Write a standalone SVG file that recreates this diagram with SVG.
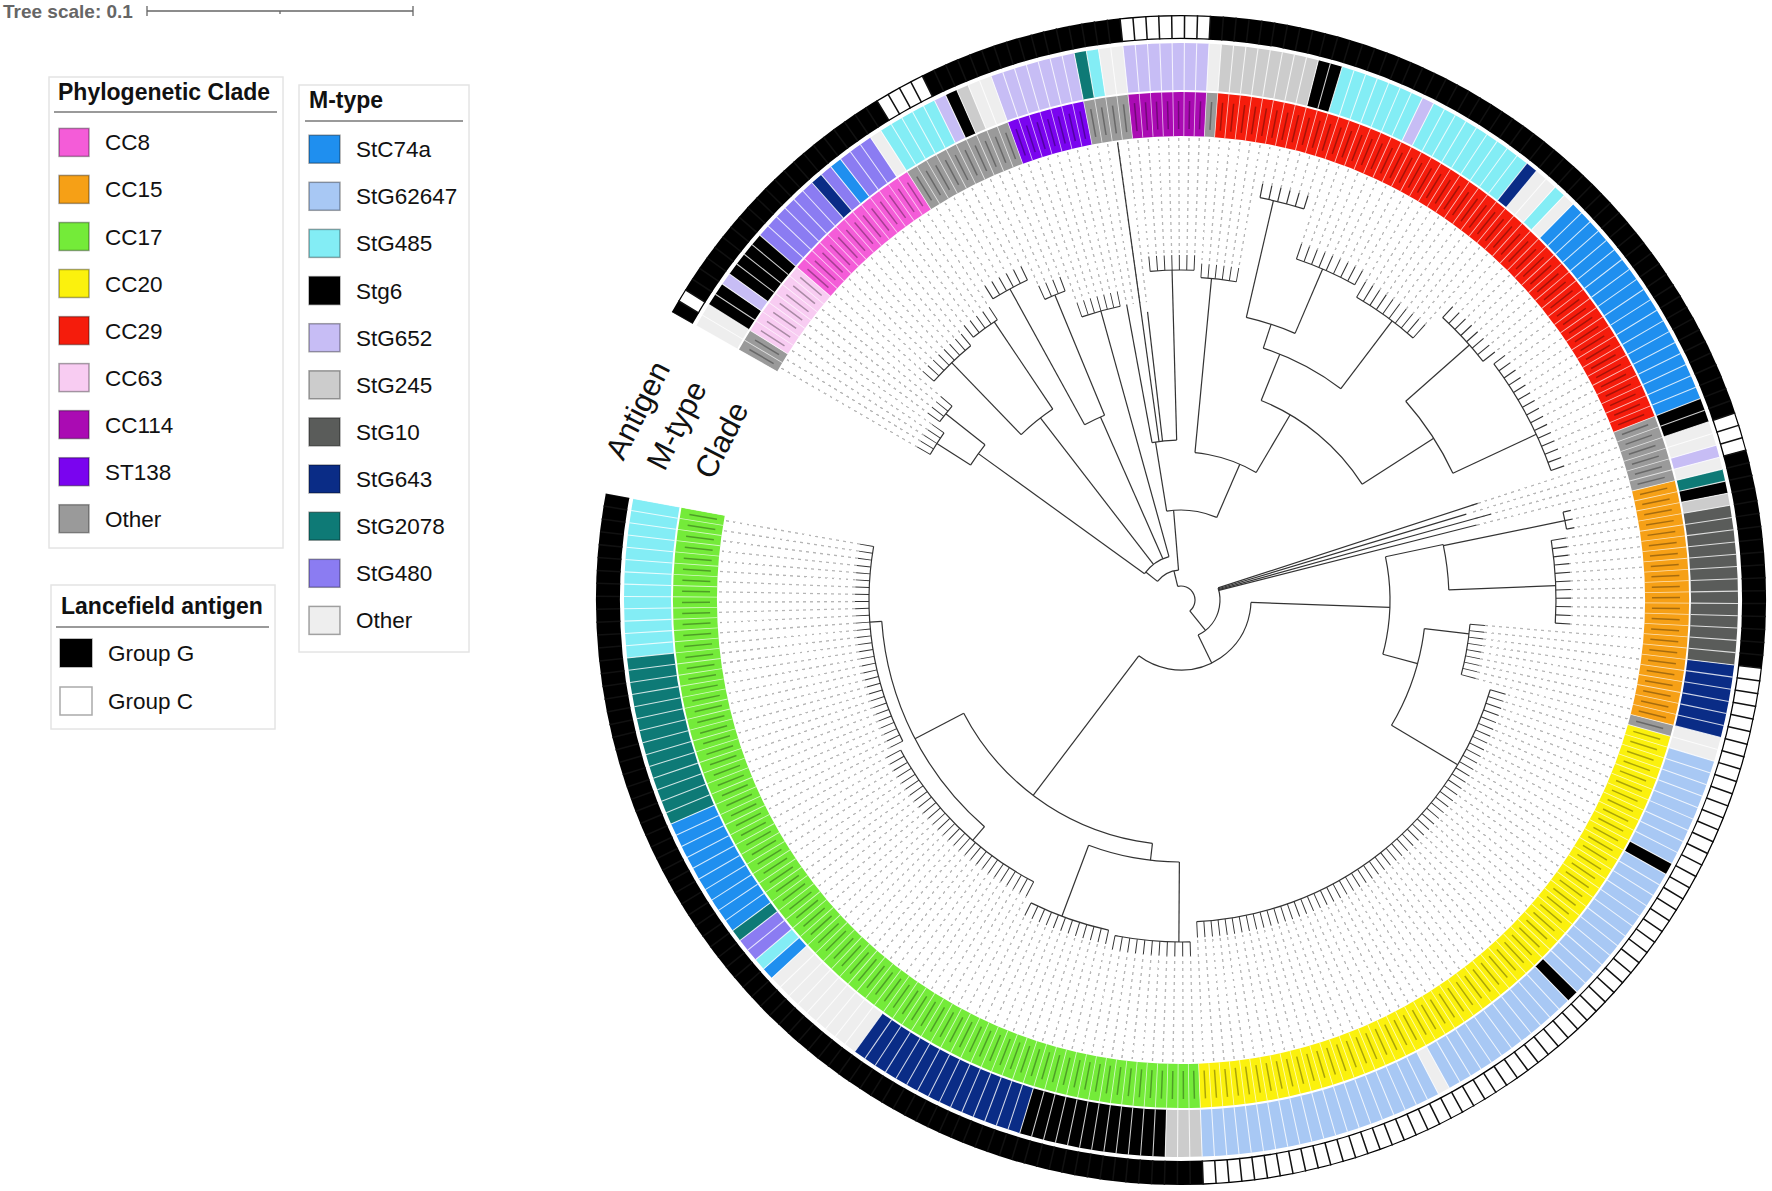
<svg xmlns="http://www.w3.org/2000/svg" width="1772" height="1191" viewBox="0 0 1772 1191">
<defs>
<style>
text{font-family:"Liberation Sans",Arial,sans-serif;fill:#111}
.lt{font-size:22.5px}
.ttl{font-size:23px;font-weight:bold}
.sw{stroke:rgba(0,0,0,0.35);stroke-width:1.5}
.box{fill:#fff;stroke:#e4e4e4;stroke-width:1.5}
.ul{stroke:#9a9a9a;stroke-width:2}
.cr{fill:none;stroke-width:44}
.mr{fill:none;stroke-width:47}
.ar{fill:none;stroke-width:24}
.br{fill:none;stroke:#333;stroke-width:1.2}
.tk{fill:none;stroke:#333;stroke-dasharray:0.13 0.87;stroke-dashoffset:-0.435}
.mk{fill:none;stroke:#fff;stroke-width:300}
.cv{fill:none;stroke:#fff}
</style>
<radialGradient id="dg" gradientUnits="userSpaceOnUse" cx="0" cy="0" r="7" spreadMethod="repeat">
<stop offset="0" stop-color="#fff"/><stop offset="0.6" stop-color="#fff"/><stop offset="0.6" stop-color="#b5b5b5"/><stop offset="1" stop-color="#b5b5b5"/>
</radialGradient>
<mask id="m1" maskUnits="userSpaceOnUse" x="-600" y="-600" width="1200" height="1200"><circle r="300" pathLength="283.988" class="mk" style="stroke-dasharray:30 400"/></mask>
<mask id="m2" maskUnits="userSpaceOnUse" x="-600" y="-600" width="1200" height="1200"><circle r="300" pathLength="283.988" class="mk" style="stroke-dasharray:0 30 28 400"/></mask>
<mask id="m3" maskUnits="userSpaceOnUse" x="-600" y="-600" width="1200" height="1200"><circle r="300" pathLength="283.988" class="mk" style="stroke-dasharray:0 58 12 400"/></mask>
<mask id="m4" maskUnits="userSpaceOnUse" x="-600" y="-600" width="1200" height="1200"><circle r="300" pathLength="283.988" class="mk" style="stroke-dasharray:0 70 11 400"/></mask>
<mask id="m5" maskUnits="userSpaceOnUse" x="-600" y="-600" width="1200" height="1200"><circle r="300" pathLength="283.988" class="mk" style="stroke-dasharray:0 81 57 400"/></mask>
<mask id="m6" maskUnits="userSpaceOnUse" x="-600" y="-600" width="1200" height="1200"><circle r="300" pathLength="283.988" class="mk" style="stroke-dasharray:0 138 9 400"/></mask>
<mask id="m7" maskUnits="userSpaceOnUse" x="-600" y="-600" width="1200" height="1200"><circle r="300" pathLength="283.988" class="mk" style="stroke-dasharray:0 147 11 400"/></mask>
<mask id="m8" maskUnits="userSpaceOnUse" x="-600" y="-600" width="1200" height="1200"><circle r="300" pathLength="283.988" class="mk" style="stroke-dasharray:0 158 3 400"/></mask>
<mask id="m9" maskUnits="userSpaceOnUse" x="-600" y="-600" width="1200" height="1200"><circle r="300" pathLength="283.988" class="mk" style="stroke-dasharray:0 165 15 400"/></mask>
<mask id="m10" maskUnits="userSpaceOnUse" x="-600" y="-600" width="1200" height="1200"><circle r="300" pathLength="283.988" class="mk" style="stroke-dasharray:0 180 8 400"/></mask>
<mask id="m11" maskUnits="userSpaceOnUse" x="-600" y="-600" width="1200" height="1200"><circle r="300" pathLength="283.988" class="mk" style="stroke-dasharray:0 188 10 400"/></mask>
<mask id="m12" maskUnits="userSpaceOnUse" x="-600" y="-600" width="1200" height="1200"><circle r="300" pathLength="283.988" class="mk" style="stroke-dasharray:0 198 9 400"/></mask>
<mask id="m13" maskUnits="userSpaceOnUse" x="-600" y="-600" width="1200" height="1200"><circle r="300" pathLength="283.988" class="mk" style="stroke-dasharray:0 207 6 400"/></mask>
<mask id="m14" maskUnits="userSpaceOnUse" x="-600" y="-600" width="1200" height="1200"><circle r="300" pathLength="283.988" class="mk" style="stroke-dasharray:0 213 6 400"/></mask>
<mask id="m15" maskUnits="userSpaceOnUse" x="-600" y="-600" width="1200" height="1200"><circle r="300" pathLength="283.988" class="mk" style="stroke-dasharray:0 219 7 400"/></mask>
<mask id="m16" maskUnits="userSpaceOnUse" x="-600" y="-600" width="1200" height="1200"><circle r="300" pathLength="283.988" class="mk" style="stroke-dasharray:0 230 7 400"/></mask>
<mask id="m17" maskUnits="userSpaceOnUse" x="-600" y="-600" width="1200" height="1200"><circle r="300" pathLength="283.988" class="mk" style="stroke-dasharray:0 237 4 400"/></mask>
<mask id="m18" maskUnits="userSpaceOnUse" x="-600" y="-600" width="1200" height="1200"><circle r="300" pathLength="283.988" class="mk" style="stroke-dasharray:0 241 6 400"/></mask>
<mask id="m19" maskUnits="userSpaceOnUse" x="-600" y="-600" width="1200" height="1200"><circle r="300" pathLength="283.988" class="mk" style="stroke-dasharray:0 247 5 400"/></mask>
<mask id="m20" maskUnits="userSpaceOnUse" x="-600" y="-600" width="1200" height="1200"><circle r="300" pathLength="283.988" class="mk" style="stroke-dasharray:0 252 8 400"/></mask>
<mask id="m21" maskUnits="userSpaceOnUse" x="-600" y="-600" width="1200" height="1200"><circle r="300" pathLength="283.988" class="mk" style="stroke-dasharray:0 260 4 400"/></mask>
<mask id="m22" maskUnits="userSpaceOnUse" x="-600" y="-600" width="1200" height="1200"><circle r="300" pathLength="283.988" class="mk" style="stroke-dasharray:0 264 5 400"/></mask>
</defs>
<rect width="1772" height="1191" fill="#fff"/>

<g id="scale">
<text x="3" y="18" style="font-size:19px;font-weight:bold;fill:#666">Tree scale: 0.1</text>
<g stroke="#666" stroke-width="1.3">
<line x1="147" y1="11" x2="413" y2="11"/>
<line x1="147" y1="6" x2="147" y2="16"/>
<line x1="413" y1="6" x2="413" y2="16"/>
<line x1="280" y1="11" x2="280" y2="14"/>
</g>
</g>

<g id="legend-clade">
<rect class="box" x="49" y="77" width="234" height="471"/>
<text class="ttl" x="58" y="100">Phylogenetic Clade</text>
<line class="ul" x1="54" y1="112" x2="277" y2="112"/>
<rect class="sw" x="59" y="128.4" width="30" height="28" fill="#F45CD8"/><text class="lt" x="105" y="150.4">CC8</text>
<rect class="sw" x="59" y="175.4" width="30" height="28" fill="#F6A016"/><text class="lt" x="105" y="197.4">CC15</text>
<rect class="sw" x="59" y="222.5" width="30" height="28" fill="#74EB39"/><text class="lt" x="105" y="244.5">CC17</text>
<rect class="sw" x="59" y="269.5" width="30" height="28" fill="#FBF10D"/><text class="lt" x="105" y="291.5">CC20</text>
<rect class="sw" x="59" y="316.6" width="30" height="28" fill="#F51C0C"/><text class="lt" x="105" y="338.6">CC29</text>
<rect class="sw" x="59" y="363.6" width="30" height="28" fill="#F8CCF2"/><text class="lt" x="105" y="385.6">CC63</text>
<rect class="sw" x="59" y="410.6" width="30" height="28" fill="#AA0BB3"/><text class="lt" x="105" y="432.6">CC114</text>
<rect class="sw" x="59" y="457.7" width="30" height="28" fill="#7A04EF"/><text class="lt" x="105" y="479.7">ST138</text>
<rect class="sw" x="59" y="504.7" width="30" height="28" fill="#9A9A9A"/><text class="lt" x="105" y="526.7">Other</text>
</g>

<g id="legend-mtype">
<rect class="box" x="299" y="85" width="170" height="567"/>
<text class="ttl" x="309" y="108">M-type</text>
<line class="ul" x1="305" y1="121" x2="463" y2="121"/>
<rect class="sw" x="309" y="135.2" width="31" height="28" fill="#1F8FEF"/><text class="lt" x="356" y="157.2">StC74a</text>
<rect class="sw" x="309" y="182.3" width="31" height="28" fill="#A8C8F4"/><text class="lt" x="356" y="204.3">StG62647</text>
<rect class="sw" x="309" y="229.4" width="31" height="28" fill="#83EDF5"/><text class="lt" x="356" y="251.4">StG485</text>
<rect class="sw" x="309" y="276.6" width="31" height="28" fill="#000"/><text class="lt" x="356" y="298.6">Stg6</text>
<rect class="sw" x="309" y="323.7" width="31" height="28" fill="#C7BDF5"/><text class="lt" x="356" y="345.7">StG652</text>
<rect class="sw" x="309" y="370.8" width="31" height="28" fill="#CCCCCC"/><text class="lt" x="356" y="392.8">StG245</text>
<rect class="sw" x="309" y="417.9" width="31" height="28" fill="#5A5C5A"/><text class="lt" x="356" y="439.9">StG10</text>
<rect class="sw" x="309" y="465" width="31" height="28" fill="#0A2C86"/><text class="lt" x="356" y="487">StG643</text>
<rect class="sw" x="309" y="512.2" width="31" height="28" fill="#0E7A76"/><text class="lt" x="356" y="534.2">StG2078</text>
<rect class="sw" x="309" y="559.3" width="31" height="28" fill="#8B7CF2"/><text class="lt" x="356" y="581.3">StG480</text>
<rect class="sw" x="309" y="606.4" width="31" height="28" fill="#EEEEEE"/><text class="lt" x="356" y="628.4">Other</text>
</g>

<g id="legend-antigen">
<rect class="box" x="51" y="585" width="224" height="144"/>
<text class="ttl" x="61" y="614">Lancefield antigen</text>
<line class="ul" x1="56" y1="627" x2="269" y2="627"/>
<rect class="sw" x="60" y="639" width="32" height="28" fill="#000"/><text class="lt" x="108" y="661">Group G</text>
<rect x="60" y="687" width="32" height="28" fill="#fff" stroke="#aaa" stroke-width="1.5"/><text class="lt" x="108" y="708.7">Group C</text>
</g>

<g id="tree-figure" transform="translate(1181,600) rotate(190.5) scale(1,-1)">
<g id="leaf-guides">
<circle r="371.5" pathLength="283.988" style="fill:none;stroke:url(#dg);stroke-width:183;stroke-dasharray:0.16 0.84;stroke-dashoffset:-0.42"/>
</g>
<g id="leaf-covers" class="cv">
<circle r="163" pathLength="283.988" style="stroke-width:326;stroke-dasharray:30 400"/>
<circle r="167" pathLength="283.988" style="stroke-width:334;stroke-dasharray:0 30 28 400"/>
<circle r="176" pathLength="283.988" style="stroke-width:352;stroke-dasharray:0 58 12 400"/>
<circle r="178" pathLength="283.988" style="stroke-width:356;stroke-dasharray:0 70 11 400"/>
<circle r="169" pathLength="283.988" style="stroke-width:338;stroke-dasharray:0 81 57 400"/>
<circle r="152.5" pathLength="283.988" style="stroke-width:305;stroke-dasharray:0 138 9 400"/>
<circle r="195" pathLength="283.988" style="stroke-width:390;stroke-dasharray:0 147 11 400"/>
<circle r="200" pathLength="283.988" style="stroke-width:400;stroke-dasharray:0 158 3 400"/>
<circle r="152.5" pathLength="283.988" style="stroke-width:305;stroke-dasharray:0 161 4 400"/>
<circle r="203" pathLength="283.988" style="stroke-width:406;stroke-dasharray:0 165 15 400"/>
<circle r="200" pathLength="283.988" style="stroke-width:400;stroke-dasharray:0 180 8 400"/>
<circle r="184" pathLength="283.988" style="stroke-width:368;stroke-dasharray:0 188 10 400"/>
<circle r="188" pathLength="283.988" style="stroke-width:376;stroke-dasharray:0 198 9 400"/>
<circle r="212" pathLength="283.988" style="stroke-width:424;stroke-dasharray:0 207 6 400"/>
<circle r="168.5" pathLength="283.988" style="stroke-width:337;stroke-dasharray:0 213 6 400"/>
<circle r="172.5" pathLength="283.988" style="stroke-width:345;stroke-dasharray:0 219 7 400"/>
<circle r="150" pathLength="283.988" style="stroke-width:300;stroke-dasharray:0 226 4 400"/>
<circle r="157.5" pathLength="283.988" style="stroke-width:315;stroke-dasharray:0 230 7 400"/>
<circle r="172.5" pathLength="283.988" style="stroke-width:345;stroke-dasharray:0 237 4 400"/>
<circle r="185" pathLength="283.988" style="stroke-width:370;stroke-dasharray:0 241 6 400"/>
<circle r="175" pathLength="283.988" style="stroke-width:350;stroke-dasharray:0 247 5 400"/>
<circle r="172.5" pathLength="283.988" style="stroke-width:345;stroke-dasharray:0 252 8 400"/>
<circle r="157.5" pathLength="283.988" style="stroke-width:315;stroke-dasharray:0 260 4 400"/>
<circle r="152.5" pathLength="283.988" style="stroke-width:305;stroke-dasharray:0 264 5 400"/>
</g>

<g id="ring-clade">
<circle class="cr" r="486" pathLength="283.988" style="stroke:#74EB39;stroke-dasharray:81 400"/>
<circle class="cr" r="486" pathLength="283.988" style="stroke:#FBF10D;stroke-dasharray:0 81 57 400"/>
<circle class="cr" r="486" pathLength="283.988" style="stroke:#9A9A9A;stroke-dasharray:0 138 1 22 6 51 1 7 4 7 10 20 2 400"/>
<circle class="cr" r="486" pathLength="283.988" style="stroke:#F6A016;stroke-dasharray:0 139 22 400"/>
<circle class="cr" r="486" pathLength="283.988" style="stroke:#F51C0C;stroke-dasharray:0 167 51 400"/>
<circle class="cr" r="486" pathLength="283.988" style="stroke:#AA0BB3;stroke-dasharray:0 219 7 400"/>
<circle class="cr" r="486" pathLength="283.988" style="stroke:#7A04EF;stroke-dasharray:0 230 7 400"/>
<circle class="cr" r="486" pathLength="283.988" style="stroke:#F45CD8;stroke-dasharray:0 247 13 400"/>
<circle class="cr" r="486" pathLength="283.988" style="stroke:#F8CCF2;stroke-dasharray:0 260 7 400"/>
<circle r="485" pathLength="283.988" style="fill:none;stroke:rgba(0,0,0,0.32);stroke-width:28;stroke-dasharray:0.14 0.86;stroke-dashoffset:-0.43"/>
<circle class="cr" r="486" pathLength="283.988" style="stroke:#fff;stroke-opacity:0.7;stroke-dasharray:0.08 0.92;stroke-dashoffset:0.04"/>
</g>

<g id="ring-mtype">
<circle class="mr" r="533.5" pathLength="283.988" style="stroke:#83EDF5;stroke-dasharray:13 27 1 146 1 3 9 1 7 20 1 13 5 400"/>
<circle class="mr" r="533.5" pathLength="283.988" style="stroke:#0E7A76;stroke-dasharray:0 13 14 10 1 122 1 68 1 400"/>
<circle class="mr" r="533.5" pathLength="283.988" style="stroke:#1F8FEF;stroke-dasharray:0 27 10 4 1 125 19 65 1 400"/>
<circle class="mr" r="533.5" pathLength="283.988" style="stroke:#8B7CF2;stroke-dasharray:0 38 2 208 3 1 1 1 6 400"/>
<circle class="mr" r="533.5" pathLength="283.988" style="stroke:#EEEEEE;stroke-dasharray:0 42 9 50 1 35 2 22 1 1 2 21 1 1 2 28 1 7 2 9 2 8 1 19 2 400"/>
<circle class="mr" r="533.5" pathLength="283.988" style="stroke:#0A2C86;stroke-dasharray:0 51 15 73 6 45 1 62 1 400"/>
<circle class="mr" r="533.5" pathLength="283.988" style="stroke:#000;stroke-dasharray:0 66 12 36 1 12 1 31 1 5 2 41 2 30 1 19 4 1 2 400"/>
<circle class="mr" r="533.5" pathLength="283.988" style="stroke:#CCCCCC;stroke-dasharray:0 78 3 77 1 51 8 21 1 400"/>
<circle class="mr" r="533.5" pathLength="283.988" style="stroke:#A8C8F4;stroke-dasharray:0 81 20 1 12 1 12 1 9 400"/>
<circle class="mr" r="533.5" pathLength="283.988" style="stroke:#5A5C5A;stroke-dasharray:0 145 13 400"/>
<circle class="mr" r="533.5" pathLength="283.988" style="stroke:#C7BDF5;stroke-dasharray:0 162 1 37 1 18 7 4 7 4 1 22 1 400"/>
<circle class="mr" r="533.5" pathLength="283.988" style="stroke:#fff;stroke-opacity:0.8;stroke-dasharray:0.09 0.91;stroke-dashoffset:0.045"/>
</g>

<g id="ring-antigen">
<circle class="ar" r="573" pathLength="283.988" style="stroke:#000;stroke-dasharray:269 400"/>
<circle r="573" pathLength="283.988" style="fill:none;stroke:#fff;stroke-width:21.5;stroke-dasharray:0 81 64 17 3 54 7 16 4 21 1 400"/>
<circle class="ar" r="573" pathLength="283.988" style="stroke:#111;stroke-dasharray:0.12 0.88;stroke-dashoffset:0.06"/>
</g>

<circle id="gap" r="350" pathLength="283.988" style="fill:none;stroke:#fff;stroke-width:500;stroke-dasharray:0 269 15 400"/>

<g id="connectors">
<g class="br">
<circle r="14" pathLength="283.988" style="stroke-dasharray:0 110 122 400"/>
<circle r="39" pathLength="283.988" style="stroke-dasharray:0 99.8 64.7 400"/>
<circle r="70" pathLength="283.988" style="stroke-dasharray:0 50 98.7 400"/>
<circle r="245" pathLength="283.988" style="stroke-dasharray:0 30 44 400"/>
<circle r="300" pathLength="283.988" style="stroke-dasharray:0 11.5 35.5 400"/>
<circle r="312" pathLength="283.988" style="stroke-dasharray:0 0.5 29 400"/>
<circle r="318" pathLength="283.988" style="stroke-dasharray:0 30.5 27 400"/>
<circle r="262" pathLength="283.988" style="stroke-dasharray:0 63 16 400"/>
<circle r="338" pathLength="283.988" style="stroke-dasharray:0 58.5 11 400"/>
<circle r="342" pathLength="283.988" style="stroke-dasharray:0 70.5 10 400"/>
<circle r="209" pathLength="283.988" style="stroke-dasharray:0 138.4 21.3 400"/>
<circle r="245" pathLength="283.988" style="stroke-dasharray:0 126 19 400"/>
<circle r="322" pathLength="283.988" style="stroke-dasharray:0 81.5 56 400"/>
<circle r="290" pathLength="283.988" style="stroke-dasharray:0 138.5 8 400"/>
<circle r="268" pathLength="283.988" style="stroke-dasharray:0 152 7.7 400"/>
<circle r="375" pathLength="283.988" style="stroke-dasharray:0 147.5 10 400"/>
<circle r="392" pathLength="283.988" style="stroke-dasharray:0 158.5 2 400"/>
<circle r="30" pathLength="283.988" style="stroke-dasharray:0 225 37 400"/>
<circle r="90" pathLength="283.988" style="stroke-dasharray:0 202.8 25.7 400"/>
<circle r="148" pathLength="283.988" style="stroke-dasharray:0 197.2 19.8 400"/>
<circle r="215" pathLength="283.988" style="stroke-dasharray:0 176 28 400"/>
<circle r="300" pathLength="283.988" style="stroke-dasharray:0 170 13 400"/>
<circle r="392" pathLength="283.988" style="stroke-dasharray:0 165.5 14 400"/>
<circle r="385" pathLength="283.988" style="stroke-dasharray:0 180.5 7 400"/>
<circle r="265" pathLength="283.988" style="stroke-dasharray:0 192 15 400"/>
<circle r="350" pathLength="283.988" style="stroke-dasharray:0 188.5 9 400"/>
<circle r="290" pathLength="283.988" style="stroke-dasharray:0 203 8 400"/>
<circle r="360" pathLength="283.988" style="stroke-dasharray:0 198.5 8 400"/>
<circle r="410" pathLength="283.988" style="stroke-dasharray:0 207.5 5 400"/>
<circle r="323" pathLength="283.988" style="stroke-dasharray:0 213.5 5 400"/>
<circle r="160" pathLength="283.988" style="stroke-dasharray:0 222.5 7 400"/>
<circle r="330" pathLength="283.988" style="stroke-dasharray:0 219.5 6 400"/>
<circle r="45" pathLength="283.988" style="stroke-dasharray:0 233.5 30.5 400"/>
<circle r="300" pathLength="283.988" style="stroke-dasharray:0 230.5 6 400"/>
<circle r="200" pathLength="283.988" style="stroke-dasharray:0 239 5 400"/>
<circle r="330" pathLength="283.988" style="stroke-dasharray:0 237.5 3 400"/>
<circle r="355" pathLength="283.988" style="stroke-dasharray:0 241.5 5 400"/>
<circle r="230" pathLength="283.988" style="stroke-dasharray:0 248 8 400"/>
<circle r="335" pathLength="283.988" style="stroke-dasharray:0 247.5 4 400"/>
<circle r="330" pathLength="283.988" style="stroke-dasharray:0 252.5 7 400"/>
<circle r="250" pathLength="283.988" style="stroke-dasharray:0 262 4.5 400"/>
<circle r="300" pathLength="283.988" style="stroke-dasharray:0 260.5 3 400"/>
<circle r="290" pathLength="283.988" style="stroke-dasharray:0 264.5 4 400"/>

<line x1="14" x2="39" transform="rotate(139.443)"/>
<line x1="14" x2="30" transform="rotate(294.097)"/>
<line x1="39" x2="70" transform="rotate(126.51)"/>
<line x1="70" x2="245" transform="rotate(63.383)"/>
<line x1="245" x2="300" transform="rotate(38.03)"/>
<line x1="300" x2="312" transform="rotate(14.578)"/>
<line x1="300" x2="318" transform="rotate(59.58)"/>
<line x1="245" x2="262" transform="rotate(93.807)"/>
<line x1="262" x2="338" transform="rotate(79.863)"/>
<line x1="262" x2="342" transform="rotate(100.145)"/>
<line x1="70" x2="209" transform="rotate(188.501)"/>
<line x1="209" x2="245" transform="rotate(175.444)"/>
<line x1="245" x2="322" transform="rotate(159.725)"/>
<line x1="245" x2="290" transform="rotate(183.811)"/>
<line x1="209" x2="268" transform="rotate(202.445)"/>
<line x1="268" x2="375" transform="rotate(192.684)"/>
<line x1="268" x2="392" transform="rotate(202.192)"/>
<line x1="39" x2="305" transform="rotate(204.727)"/>
<line x1="39" x2="322" transform="rotate(205.995)"/>
<line x1="39" x2="298" transform="rotate(207.262)"/>
<line x1="39" x2="312" transform="rotate(208.53)"/>
<line x1="30" x2="90" transform="rotate(285.224)"/>
<line x1="30" x2="45" transform="rotate(332.127)"/>
<line x1="90" x2="148" transform="rotate(257.081)"/>
<line x1="90" x2="160" transform="rotate(289.66)"/>
<line x1="148" x2="215" transform="rotate(249.983)"/>
<line x1="148" x2="323" transform="rotate(275.082)"/>
<line x1="215" x2="300" transform="rotate(223.108)"/>
<line x1="215" x2="265" transform="rotate(258.603)"/>
<line x1="300" x2="392" transform="rotate(215.502)"/>
<line x1="300" x2="385" transform="rotate(231.982)"/>
<line x1="265" x2="350" transform="rotate(243.391)"/>
<line x1="265" x2="290" transform="rotate(262.406)"/>
<line x1="290" x2="360" transform="rotate(257.335)"/>
<line x1="290" x2="410" transform="rotate(267.476)"/>
<line x1="160" x2="330" transform="rotate(282.054)"/>
<line x1="160" x2="290" transform="rotate(287.125)"/>
<line x1="160" x2="462" transform="rotate(288.393)"/>
<line x1="160" x2="300" transform="rotate(290.928)"/>
<line x1="45" x2="300" transform="rotate(296)"/>
<line x1="45" x2="200" transform="rotate(304.238)"/>
<line x1="200" x2="330" transform="rotate(302.971)"/>
<line x1="200" x2="355" transform="rotate(309.309)"/>
<line x1="45" x2="230" transform="rotate(318.183)"/>
<line x1="230" x2="335" transform="rotate(314.38)"/>
<line x1="230" x2="330" transform="rotate(324.521)"/>
<line x1="45" x2="250" transform="rotate(334.662)"/>
<line x1="250" x2="300" transform="rotate(332.127)"/>
<line x1="250" x2="290" transform="rotate(337.831)"/>
</g>
<g id="leaf-twigs">
<circle class="tk" r="319" pathLength="283.988" style="stroke-width:14" mask="url(#m1)"/>
<circle class="tk" r="326" pathLength="283.988" style="stroke-width:16" mask="url(#m2)"/>
<circle class="tk" r="345" pathLength="283.988" style="stroke-width:14" mask="url(#m3)"/>
<circle class="tk" r="349" pathLength="283.988" style="stroke-width:14" mask="url(#m4)"/>
<circle class="tk" r="330" pathLength="283.988" style="stroke-width:16" mask="url(#m5)"/>
<circle class="tk" r="297.5" pathLength="283.988" style="stroke-width:15" mask="url(#m6)"/>
<circle class="tk" r="382.5" pathLength="283.988" style="stroke-width:15" mask="url(#m7)"/>
<circle class="tk" r="396" pathLength="283.988" style="stroke-width:8" mask="url(#m8)"/>
<circle class="tk" r="399" pathLength="283.988" style="stroke-width:14" mask="url(#m9)"/>
<circle class="tk" r="392.5" pathLength="283.988" style="stroke-width:15" mask="url(#m10)"/>
<circle class="tk" r="359" pathLength="283.988" style="stroke-width:18" mask="url(#m11)"/>
<circle class="tk" r="368" pathLength="283.988" style="stroke-width:16" mask="url(#m12)"/>
<circle class="tk" r="417" pathLength="283.988" style="stroke-width:14" mask="url(#m13)"/>
<circle class="tk" r="330" pathLength="283.988" style="stroke-width:14" mask="url(#m14)"/>
<circle class="tk" r="337.5" pathLength="283.988" style="stroke-width:15" mask="url(#m15)"/>
<circle class="tk" r="307.5" pathLength="283.988" style="stroke-width:15" mask="url(#m16)"/>
<circle class="tk" r="337.5" pathLength="283.988" style="stroke-width:15" mask="url(#m17)"/>
<circle class="tk" r="362.5" pathLength="283.988" style="stroke-width:15" mask="url(#m18)"/>
<circle class="tk" r="342.5" pathLength="283.988" style="stroke-width:15" mask="url(#m19)"/>
<circle class="tk" r="337.5" pathLength="283.988" style="stroke-width:15" mask="url(#m20)"/>
<circle class="tk" r="307.5" pathLength="283.988" style="stroke-width:15" mask="url(#m21)"/>
<circle class="tk" r="297.5" pathLength="283.988" style="stroke-width:15" mask="url(#m22)"/>
</g>
</g>
</g>

<g id="ring-labels" style="font-size:31px">
<text transform="translate(647,415) rotate(-63)" text-anchor="middle">Antigen</text>
<text transform="translate(686,430) rotate(-63)" text-anchor="middle">M-type</text>
<text transform="translate(731,445) rotate(-63)" text-anchor="middle">Clade</text>
</g>
</svg>
